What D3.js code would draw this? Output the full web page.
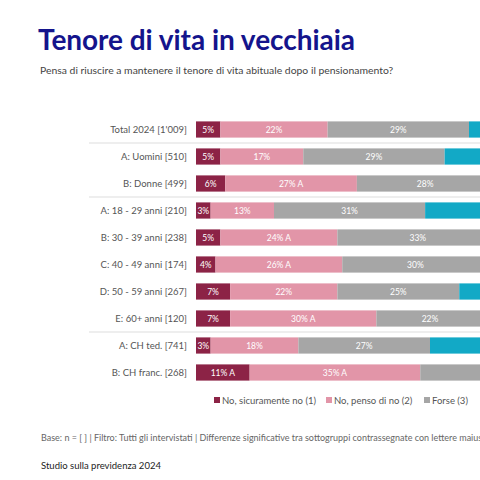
<!DOCTYPE html><html><head><meta charset="utf-8">
<script src="https://cdn.jsdelivr.net/npm/d3@7"></script>
<style>body{margin:0;background:#fff;font-family:Lato,"Noto Sans",sans-serif}</style></head><body>
<svg id="c" width="480" height="480"></svg>
<script>
const categories=["Total 2024 [1'009]","A: Uomini [510]","B: Donne [499]","A: 18 - 29 anni [210]","B: 30 - 39 anni [238]","C: 40 - 49 anni [174]","D: 50 - 59 anni [267]","E: 60+ anni [120]","A: CH ted. [741]","B: CH franc. [268]"];
const seriesNames=["No, sicuramente no (1)","No, penso di no (2)","Forse (3)","Sì, penso di sì (4)","Sì, sicuramente sì (5)"];
const colors=["#8c2346","#e295a8","#a6a6a6","#12a9c6","#0a6f8a"];
const s1=[5,5,6,3,5,4,7,7,3,11];
const s2=[22,17,27,13,24,26,22,30,18,35];
const s3=[29,29,28,31,33,30,25,22,27,30];
const s4=[30,33,27,35,29,30,33,33,34,18];
const s5=[14,16,12,18,9,10,13,8,18,6];
const labels1=["5%","5%","6%","3%","5%","4%","7%","7%","3%","11% A"];
const labels2=["22%","17%","27% A","13%","24% A","26% A","22%","30% A","18%","35% A"];
const labels3=["29%","29%","28%","31%","33%","30%","25%","22%","27%","30%"];
const separatorsAfter=[0,2,7];
const series=[s1,s2,s3,s4,s5];const lbls=[labels1,labels2,labels3,null,null];
const svg=d3.select("#c");
svg.append("text").attr("x",38).attr("y",50).attr("fill","#14148c").attr("font-size",28).attr("font-weight",700).attr("textLength",317).text("Tenore di vita in vecchiaia");
svg.append("text").attr("x",40).attr("y",74).attr("fill","#444").attr("font-size",10.4).text("Pensa di riuscire a mantenere il tenore di vita abituale dopo il pensionamento?");
const x=d3.scaleLinear().domain([0,100]).range([196,683.5]);
const y=d3.scaleBand().domain(categories).range([116,386]).paddingInner(0.4).paddingOuter(0.2);
categories.forEach((c,i)=>{
  let acc=0;
  series.forEach((s,k)=>{
    const v=s[i];
    svg.append("rect").attr("x",x(acc)).attr("y",y(c)).attr("width",x(acc+v)-x(acc)).attr("height",y.bandwidth()).attr("fill",colors[k]);
    const cx=(x(acc)+x(acc+v))/2;
    if(lbls[k] && cx<470) svg.append("text").attr("x",cx).attr("y",y(c)+y.bandwidth()/2+3.2).attr("text-anchor","middle").attr("fill","#fff").attr("font-size",8.5).text(lbls[k][i]);
    acc+=v;
  });
  svg.append("text").attr("x",187).attr("y",y(c)+y.bandwidth()/2+3.5).attr("text-anchor","end").attr("fill","#555").attr("font-size",9.5).text(c);
});
separatorsAfter.forEach(i=>{
  const yy=(y(categories[i])+y.bandwidth()+y(categories[i+1]))/2;
  svg.append("line").attr("x1",89).attr("x2",480).attr("y1",yy).attr("y2",yy).attr("stroke","#ddd").attr("stroke-width",1);
});
const lx=[214,326,424];
lx.forEach((px,k)=>{
  svg.append("rect").attr("x",px).attr("y",397).attr("width",6).attr("height",6).attr("fill",colors[k]);
  svg.append("text").attr("x",px+8).attr("y",404).attr("fill","#555").attr("font-size",9.5).text(seriesNames[k]);
});
svg.append("text").attr("x",41).attr("y",441).attr("fill","#666").attr("font-size",9).text("Base: n = [ ] | Filtro: Tutti gli intervistati | Differenze significative tra sottogruppi contrassegnate con lettere maiuscole (p");
svg.append("text").attr("x",41).attr("y",469).attr("fill","#222").attr("font-size",9.5).text("Studio sulla previdenza 2024");
</script></body></html>
